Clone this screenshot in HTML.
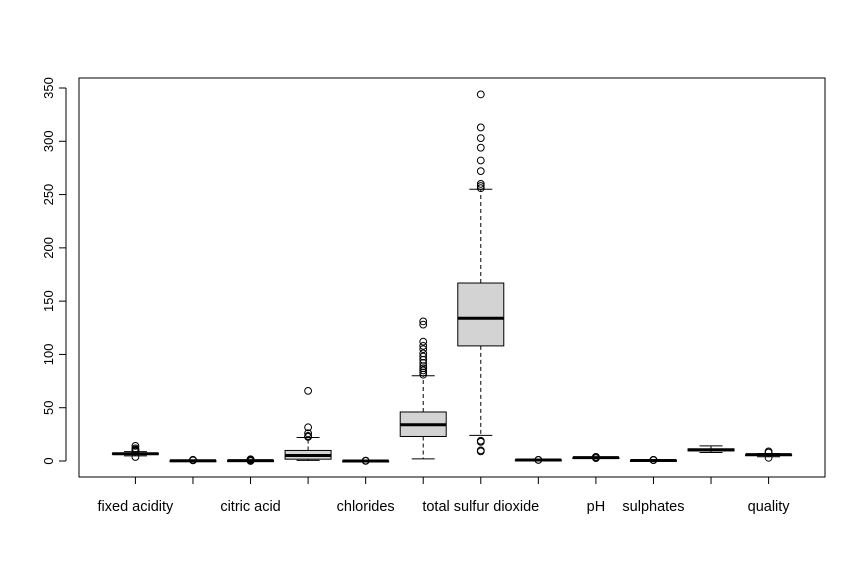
<!DOCTYPE html>
<html><head><meta charset="utf-8"><style>
body{margin:0;background:#fff}
svg{display:block;font-family:"Liberation Sans",Arial,sans-serif}
</style></head><body>
<svg id="chart" width="866" height="574"></svg>
<script>
const categories=["fixed acidity","volatile acidity","citric acid","residual sugar","chlorides","free sulfur dioxide","total sulfur dioxide","density","pH","sulphates","alcohol","quality"];
const shownLabels=[true,false,true,false,true,false,true,false,true,true,false,true];
const q1s=[6.3,0.21,0.27,1.7,0.036,23,108,0.99,3.09,0.41,9.5,5];
const medians=[6.8,0.26,0.32,5.2,0.043,34,134,0.994,3.18,0.47,10.4,6];
const q3s=[7.3,0.32,0.39,9.9,0.05,46,167,0.996,3.28,0.55,11.4,6];
const whiskLo=[4.8,0.08,0.09,0.6,0.009,2,24,0.987,2.79,0.22,8,4];
const whiskHi=[8.8,0.485,0.57,22,0.071,80,255,1.002,3.57,0.76,14.2,7];
const outliers=[[3.8,9,9.5,10,10.7,11.8,14.2],[0.6,0.8,1.1],[0,0.8,1,1.66],[22.6,23.5,26,31.6,65.8],[0.1,0.2,0.346],[81,83,85,87,89,92,95,98,101,105,108,112,128,131],[9,10,18,19,256,258,260,272,282,294,303,313,344],[1.01,1.04],[2.72,3.7,3.82],[0.8,1,1.08],[],[3,8,9]];
const yTicks=[0,50,100,150,200,250,300,350];

const NS="http://www.w3.org/2000/svg";
const svg=document.getElementById("chart");
const L=79,R=825,T=78,B=477;
const xs=i=>L+(i+1-0.02)*((R-L)/12.96);
const ys=v=>461-v*(373/350);
function el(tag,attrs,parent){const e=document.createElementNS(NS,tag);for(const k in attrs)e.setAttribute(k,attrs[k]);(parent||svg).appendChild(e);return e;}

const frame=el("rect",{x:L,y:T,width:R-L,height:B-T,fill:"none",stroke:"#000","stroke-width":1});



const yAxis=el("g",{});


el("line",{x1:L-13,x2:L-13,y1:ys(0),y2:ys(350),stroke:"#000"},yAxis);
yTicks.forEach(t=>{
  el("line",{x1:L-13,x2:L-20,y1:ys(t),y2:ys(t),stroke:"#000"},yAxis);
  const tx=el("text",{x:0,y:0,transform:`translate(${L-26},${ys(t)}) rotate(-90)`,"text-anchor":"middle","font-size":13},yAxis);
  tx.textContent=t;
  
  
});

const xAxis=el("g",{});


el("line",{x1:xs(0),x2:xs(11),y1:B,y2:B,stroke:"#000"},xAxis);

const hw=23;
categories.forEach((c,i)=>{
  const x=xs(i);
  el("line",{x1:x,x2:x,y1:B,y2:B+7,stroke:"#000"},xAxis);
  if(shownLabels[i]){
    const tx=el("text",{x:x,y:511,"text-anchor":"middle","font-size":14.5},xAxis);
    tx.textContent=c;
    
    
  }
  const g=el("g",{});
  
  
  el("line",{x1:x,x2:x,y1:ys(q3s[i]),y2:ys(whiskHi[i]),stroke:"#000","stroke-dasharray":"4,3"},g);
  el("line",{x1:x,x2:x,y1:ys(q1s[i]),y2:ys(whiskLo[i]),stroke:"#000","stroke-dasharray":"4,3"},g);
  el("line",{x1:x-hw/2,x2:x+hw/2,y1:ys(whiskHi[i]),y2:ys(whiskHi[i]),stroke:"#000"},g);
  el("line",{x1:x-hw/2,x2:x+hw/2,y1:ys(whiskLo[i]),y2:ys(whiskLo[i]),stroke:"#000"},g);
  el("rect",{x:x-hw,y:ys(q3s[i]),width:2*hw,height:Math.max(ys(q1s[i])-ys(q3s[i]),1),fill:"#d3d3d3",stroke:"#000"},g);
  el("line",{x1:x-hw,x2:x+hw,y1:ys(medians[i]),y2:ys(medians[i]),stroke:"#000","stroke-width":3},g);
  outliers[i].forEach(o=>{
    const c2=el("circle",{cx:x,cy:ys(o),r:3.4,fill:"none",stroke:"#000"},g);
    
    
  });
});
</script>
</body></html>
